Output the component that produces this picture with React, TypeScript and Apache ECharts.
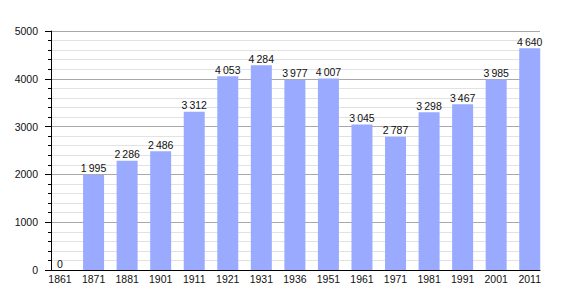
import React, { useEffect, useRef } from "react";
import * as echarts from "echarts";

const years = ["1861", "1871", "1881", "1901", "1911", "1921", "1931", "1936", "1951", "1961", "1971", "1981", "1991", "2001", "2011"];
const population = [0, 1995, 2286, 2486, 3312, 4053, 4284, 3977, 4007, 3045, 2787, 3298, 3467, 3985, 4640];
const yMin = 0;
const yMax = 5000;
const yInterval = 1000;

const fmt = (v: number) => String(v).replace(/\B(?=(\d{3})+(?!\d))/g, "\u2009");

export default function App() {
  const ref = useRef<HTMLDivElement>(null);
  useEffect(() => {
    if (!ref.current) return;
    const chart = echarts.init(ref.current, undefined, { renderer: "svg" });
    const font = "Liberation Sans, Arial, sans-serif";
    chart.setOption({
      animation: false,
      backgroundColor: "#ffffff",
      textStyle: { fontFamily: font },
      grid: [
        { left: 51, right: 30, top: 31, bottom: 30, containLabel: false },
        { left: 43.25, right: 23.5, top: 31, bottom: 30, containLabel: false },
      ],
      xAxis: [
        {
          gridIndex: 0,
          type: "value",
          min: 0,
          max: 1,
          axisLine: { show: true, lineStyle: { color: "#000", width: 1 } },
          axisTick: { show: false },
          axisLabel: { show: false },
          splitLine: { show: false },
        },
        {
          gridIndex: 1,
          type: "category",
          data: years,
          axisLine: { show: false },
          axisTick: { show: false },
          axisLabel: { color: "#111", fontSize: 10.5, margin: 3, fontFamily: font, interval: 0 },
          splitLine: { show: false },
        },
      ],
      yAxis: [
        {
          gridIndex: 0,
          type: "value",
          min: yMin,
          max: yMax,
          interval: yInterval,
          axisLine: { show: true, lineStyle: { color: "#000", width: 1 } },
          axisTick: { show: true, length: 6, lineStyle: { color: "#000" } },
          minorTick: { show: true, splitNumber: 5, length: 3, lineStyle: { color: "#000" } },
          axisLabel: {
            color: "#111",
            fontSize: 10.5,
            margin: 13,
            fontFamily: font,
            formatter: (v: number) => String(v),
          },
          splitLine: { show: true, lineStyle: { color: "#a8a8a8", width: 1 } },
          minorSplitLine: { show: true, lineStyle: { color: "#e2e2e2", width: 1 } },
        },
        {
          gridIndex: 1,
          type: "value",
          min: yMin,
          max: yMax,
          interval: yInterval,
          show: false,
          splitLine: { show: false },
        },
      ],
      series: [
        {
          type: "bar",
          xAxisIndex: 1,
          yAxisIndex: 1,
          data: population,
          barWidth: 21,
          itemStyle: { color: "#9aabff" },
          label: {
            show: true,
            position: "top",
            distance: 1,
            color: "#111",
            fontSize: 10.5,
            fontFamily: font,
            formatter: (p: any) => fmt(p.value),
          },
        },
      ],
    });
    return () => chart.dispose();
  }, []);
  return (
    <div
      ref={ref}
      style={{ position: "fixed", left: 0, top: 0, width: 570, height: 300, background: "#fff" }}
    />
  );
}
